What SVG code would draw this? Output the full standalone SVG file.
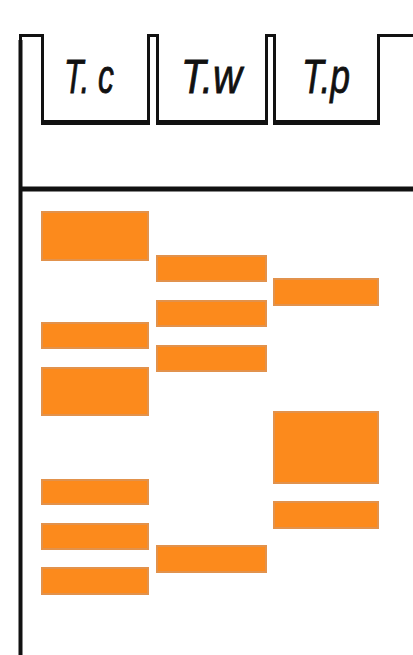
<svg xmlns="http://www.w3.org/2000/svg" width="413" height="655" viewBox="0 0 413 655">
<style>
.frame{fill:none;stroke:#111;stroke-linejoin:miter}
.lbl{font-family:"Liberation Sans",Arial,sans-serif;font-style:italic;font-size:48px;fill:#111;stroke:#111;stroke-width:0.8}
.band{fill:#FC8A1C;stroke:#E2924C;stroke-width:2}
</style>
<rect width="413" height="655" fill="#fff"/>
<g id="gel-frame">
<path class="frame" stroke-width="3" d="M20.5,655 V35.5 H42.5 V121 M148.5,121 V35.5 H157.5 V121 M266.5,121 V35.5 H274.5 V121 M378.5,121 V35.5 H413"/>
<path class="frame" stroke-width="4" d="M20.5,40 V655"/>
<path class="frame" stroke-width="5" d="M41,122.5 H150 M156,122.5 H268 M273,122.5 H380"/>
<path class="frame" stroke-width="5" d="M19,189 H413"/>
</g>
<g id="label-tc"><text class="lbl" x="64" y="93" textLength="50" lengthAdjust="spacingAndGlyphs">T. c</text></g>
<g id="label-tw"><text class="lbl" x="181" y="93" textLength="61" lengthAdjust="spacingAndGlyphs">T.w</text></g>
<g id="label-tp"><text class="lbl" x="302" y="93" textLength="48" lengthAdjust="spacingAndGlyphs">T.p</text></g>
<g id="lane-tc">
<rect class="band" x="42" y="212" width="106" height="48"/>
<rect class="band" x="42" y="323" width="106" height="25"/>
<rect class="band" x="42" y="368" width="106" height="47"/>
<rect class="band" x="42" y="480" width="106" height="24"/>
<rect class="band" x="42" y="524" width="106" height="25"/>
<rect class="band" x="42" y="568" width="106" height="26"/>
</g>
<g id="lane-tw">
<rect class="band" x="157" y="256" width="109" height="25"/>
<rect class="band" x="157" y="301" width="109" height="25"/>
<rect class="band" x="157" y="346" width="109" height="25"/>
<rect class="band" x="157" y="546" width="109" height="26"/>
</g>
<g id="lane-tp">
<rect class="band" x="274" y="279" width="104" height="26"/>
<rect class="band" x="274" y="412" width="104" height="71"/>
<rect class="band" x="274" y="502" width="104" height="26"/>
</g>
</svg>
